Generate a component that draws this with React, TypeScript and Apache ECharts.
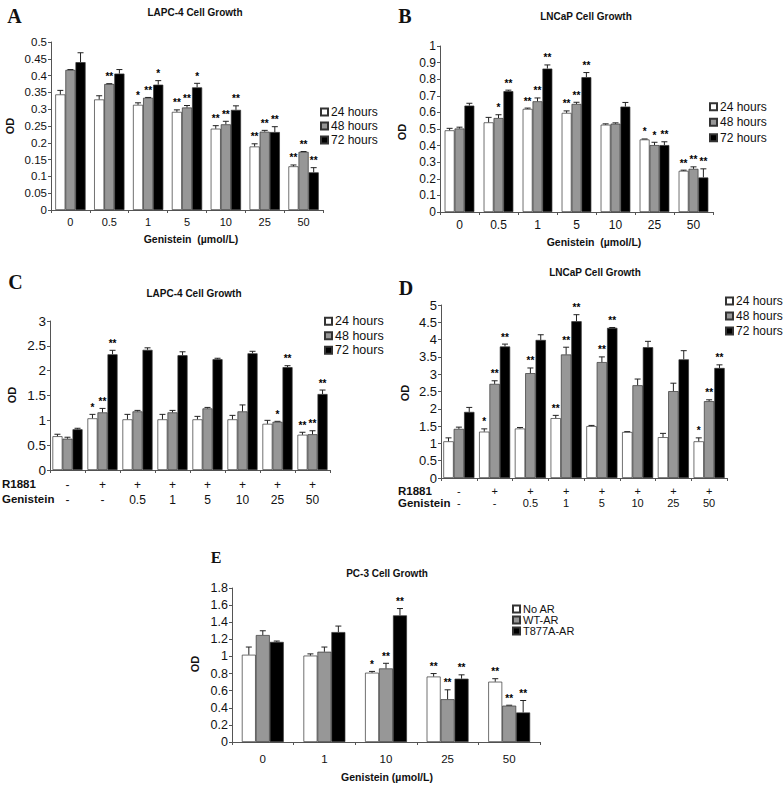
import React, { useEffect, useRef } from "react";
import * as echarts from "echarts";

// ---------- data ----------
const hourNames = ["24 hours", "48 hours", "72 hours"];
const arNames = ["No AR", "WT-AR", "T877A-AR"];

const catsAB = ["0", "0.5", "1", "5", "10", "25", "50"];

// Panel A: LAPC-4
const a24 = [0.344, 0.329, 0.313, 0.292, 0.242, 0.189, 0.13];
const a24e = [0.012, 0.011, 0.006, 0.006, 0.009, 0.008, 0.004];
const a24s = ["", "", "*", "**", "**", "**", "**"];
const a48 = [0.417, 0.375, 0.334, 0.305, 0.255, 0.233, 0.173];
const a48e = [0.001, 0.001, 0.001, 0.006, 0.009, 0.004, 0.001];
const a48s = ["", "**", "**", "**", "**", "**", "**"];
const a72 = [0.44, 0.406, 0.373, 0.365, 0.298, 0.232, 0.112];
const a72e = [0.028, 0.012, 0.012, 0.012, 0.012, 0.016, 0.014];
const a72s = ["", "", "*", "*", "**", "**", "**"];

// Panel B: LNCaP
const b24 = [0.492, 0.54, 0.621, 0.597, 0.526, 0.437, 0.248];
const b24e = [0.012, 0.03, 0.005, 0.012, 0.005, 0.003, 0.004];
const b24s = ["", "", "**", "**", "", "*", "**"];
const b48 = [0.503, 0.566, 0.667, 0.651, 0.532, 0.403, 0.26];
const b48e = [0.008, 0.02, 0.02, 0.01, 0.005, 0.017, 0.012];
const b48s = ["", "*", "**", "**", "", "*", "**"];
const b72 = [0.641, 0.728, 0.864, 0.812, 0.635, 0.403, 0.208];
const b72e = [0.014, 0.006, 0.022, 0.028, 0.025, 0.02, 0.052];
const b72s = ["", "**", "**", "**", "", "**", "**"];

// Panels C & D: R1881 + Genistein
const r1881Row = ["-", "+", "+", "+", "+", "+", "+", "+"];
const genRow = ["-", "-", "0.5", "1", "5", "10", "25", "50"];

const c24 = [0.68, 1.04, 1.02, 1.02, 1.02, 1.02, 0.93, 0.71];
const c24e = [0.04, 0.08, 0.1, 0.1, 0.06, 0.08, 0.07, 0.05];
const c24s = ["", "*", "", "", "", "", "", "**"];
const c48 = [0.63, 1.16, 1.18, 1.16, 1.24, 1.18, 0.97, 0.72];
const c48e = [0.03, 0.08, 0.02, 0.04, 0.02, 0.13, 0.01, 0.07];
const c48s = ["", "**", "", "", "", "", "*", "**"];
const c72 = [0.82, 2.33, 2.42, 2.31, 2.23, 2.35, 2.07, 1.53];
const c72e = [0.02, 0.08, 0.04, 0.07, 0.02, 0.04, 0.03, 0.08];
const c72s = ["", "**", "", "", "", "", "**", "**"];

const d24 = [1.06, 1.34, 1.43, 1.73, 1.5, 1.33, 1.18, 1.06];
const d24e = [0.1, 0.08, 0.03, 0.08, 0.02, 0.01, 0.11, 0.1];
const d24s = ["", "*", "", "**", "", "", "", "*"];
const d48 = [1.42, 2.72, 3.03, 3.57, 3.35, 2.68, 2.51, 2.22];
const d48e = [0.05, 0.09, 0.15, 0.21, 0.15, 0.18, 0.23, 0.04];
const d48s = ["", "**", "**", "**", "**", "", "", "**"];
const d72 = [1.91, 3.8, 3.99, 4.53, 4.34, 3.78, 3.43, 3.18];
const d72e = [0.13, 0.07, 0.15, 0.19, 0.01, 0.17, 0.25, 0.09];
const d72s = ["", "**", "", "**", "**", "", "", "**"];

// Panel E: PC-3
const catsE = ["0", "1", "10", "25", "50"];
const eNo = [1.02, 1.01, 0.81, 0.765, 0.705];
const eNoE = [0.09, 0.02, 0.015, 0.035, 0.035];
const eNoS = ["", "", "*", "**", "**"];
const eWt = [1.25, 1.055, 0.86, 0.5, 0.425];
const eWtE = [0.05, 0.055, 0.06, 0.11, 0.005];
const eWtS = ["", "", "**", "**", "**"];
const eT = [1.17, 1.285, 1.48, 0.74, 0.345];
const eTE = [0.01, 0.07, 0.08, 0.045, 0.14];
const eTS = ["", "", "**", "**", "**"];

// ---------- styling ----------
const FONT = "'Liberation Sans', Arial, sans-serif";
const SERIF = "'Liberation Serif', 'Times New Roman', serif";
const FILLS = ["#ffffff", "#979797", "#000000"];
const AXIS = "#555";
const TXT = "#111";

function panelSeries(
  p: number,
  names: string[],
  vals: number[][],
  errs: number[][],
  sigs: string[][],
  gap: number
) {
  const out: any[] = [];
  for (let i = 0; i < 3; i++) {
    out.push({
      type: "bar",
      name: names[i],
      xAxisIndex: p,
      yAxisIndex: p,
      data: vals[i],
      barGap: "0%",
      barCategoryGap: gap * 100 + "%",
      itemStyle: { color: FILLS[i], borderColor: "#333", borderWidth: 0.7 },
      z: 2,
    });
  }
  for (let i = 0; i < 3; i++) {
    out.push({
      type: "custom",
      name: "err-" + p + "-" + i,
      xAxisIndex: p,
      yAxisIndex: p,
      z: 5,
      silent: true,
      itemStyle: { color: "#111" },
      data: vals[i].map((v, k) => [k, v, errs[i][k]]),
      encode: { x: 0, y: 1 },
      renderItem: (params: any, api: any) => {
        const k = api.value(0);
        const v = api.value(1);
        const e = api.value(2);
        const band = api.size([1, 0])[0];
        const bw = (band * (1 - gap)) / 3;
        const base = api.coord([k, v]);
        const cx = base[0] + (i - 1) * bw;
        const yTop = base[1];
        const yErr = api.coord([k, v + e])[1];
        const s = sigs[i][params.dataIndex];
        const children: any[] = [];
        if (yTop - yErr > 0.6) {
          children.push({
            type: "line",
            shape: { x1: cx, y1: yTop, x2: cx, y2: yErr },
            style: { stroke: "#222", lineWidth: 1 },
          });
        }
        children.push({
          type: "line",
          shape: { x1: cx - 3, y1: yErr, x2: cx + 3, y2: yErr },
          style: { stroke: "#222", lineWidth: 1 },
        });
        if (s) {
          children.push({
            type: "text",
            x: cx,
            y: yErr - 2,
            style: {
              legacy: false,
              text: s,
              fontSize: 10,
              fontWeight: "bold",
              fontFamily: FONT,
              fill: "#000",
              align: "center",
              verticalAlign: "bottom",
            },
          });
        }
        return { type: "group", children };
      },
    });
  }
  return out;
}

function xAxisOf(p: number, data: string[], fontSize: number, margin: number, lineHeight?: number) {
  return {
    type: "category",
    gridIndex: p,
    data,
    axisLine: { lineStyle: { color: AXIS, width: 1 } },
    axisTick: { show: true, length: 3, lineStyle: { color: AXIS } },
    axisLabel: {
      interval: 0,
      fontSize,
      margin,
      color: TXT,
      fontFamily: FONT,
      lineHeight: lineHeight,
    },
    splitLine: { show: false },
  };
}

function yAxisOf(p: number, max: number, interval: number, fontSize: number) {
  return {
    type: "value",
    gridIndex: p,
    min: 0,
    max,
    interval,
    axisLine: { show: true, lineStyle: { color: AXIS, width: 1 } },
    axisTick: { show: true, length: 3, lineStyle: { color: AXIS } },
    axisLabel: { fontSize, margin: 4, color: TXT, fontFamily: FONT },
    splitLine: { show: false },
  };
}

function legendOf(data: string[], left: number, top: number, fontSize: number, lineHeight: number) {
  return {
    data,
    orient: "vertical",
    left,
    top,
    padding: 0,
    itemGap: 0,
    itemWidth: 7,
    itemHeight: 7,
    icon: "rect",
    selectedMode: false,
    textStyle: { fontSize, lineHeight, color: TXT, fontFamily: FONT, padding: [0, 0, 0, -2] },
  };
}

function txt(text: string, x: number, y: number, fontSize: number, opts: any = {}) {
  return {
    type: "text",
    x,
    y,
    rotation: opts.rotation || 0,
    silent: true,
    style: {
      text,
      fontSize,
      fontWeight: opts.weight || "bold",
      fontFamily: opts.family || FONT,
      fill: opts.fill || TXT,
      align: opts.align || "center",
      verticalAlign: "middle",
    },
  };
}

export default function App() {
  const ref = useRef<HTMLDivElement>(null);

  useEffect(() => {
    if (!ref.current) return;
    const chart = echarts.init(ref.current, undefined, { renderer: "svg" });
    const catsCD = r1881Row.map((r, i) => r + "\n" + genRow[i]);

    const option: any = {
      animation: false,
      backgroundColor: "#ffffff",
      grid: [
        { left: 51, top: 42, width: 272, height: 168, outerBoundsMode: "none", containLabel: false },
        { left: 440, top: 46, width: 273, height: 166, outerBoundsMode: "none", containLabel: false },
        { left: 50, top: 321, width: 280, height: 149, outerBoundsMode: "none", containLabel: false },
        { left: 441, top: 305, width: 286, height: 173, outerBoundsMode: "none", containLabel: false },
        { left: 232, top: 588, width: 308, height: 154, outerBoundsMode: "none", containLabel: false },
      ],
      xAxis: [
        xAxisOf(0, catsAB, 11, 6),
        xAxisOf(1, catsAB, 12, 7),
        xAxisOf(2, catsCD, 12, 7, 15),
        xAxisOf(3, catsCD, 11, 7, 12),
        xAxisOf(4, catsE, 11.5, 11),
      ],
      yAxis: [
        yAxisOf(0, 0.5, 0.05, 11.5),
        yAxisOf(1, 1, 0.1, 12),
        yAxisOf(2, 3, 0.5, 13.5),
        yAxisOf(3, 5, 0.5, 13),
        yAxisOf(4, 1.8, 0.2, 12.5),
      ],
      legend: [
        legendOf(hourNames, 320, 105, 12, 14),
        legendOf(hourNames, 709, 99, 12, 15.5),
        legendOf(hourNames, 324, 314, 12.5, 14.5),
        legendOf(hourNames, 725, 293.5, 12, 15),
        legendOf(arNames, 512, 603.5, 11, 11),
      ],
      graphic: [
        // panel letters
        txt("A", 14.5, 16, 20, { family: SERIF }),
        txt("B", 405, 16, 20, { family: SERIF }),
        txt("C", 15.5, 282, 20, { family: SERIF }),
        txt("D", 406, 287.5, 20, { family: SERIF }),
        txt("E", 216, 557, 16, { family: SERIF }),
        // titles
        txt("LAPC-4 Cell Growth", 195, 12, 10),
        txt("LNCaP Cell Growth", 586, 16, 10),
        txt("LAPC-4 Cell Growth", 194, 293, 10),
        txt("LNCaP Cell Growth", 595, 272, 10),
        txt("PC-3 Cell Growth", 387, 573, 10),
        // y axis names
        txt("OD", 10, 126, 11, { rotation: Math.PI / 2 }),
        txt("OD", 402, 132, 11, { rotation: Math.PI / 2 }),
        txt("OD", 11.5, 395, 11, { rotation: Math.PI / 2 }),
        txt("OD", 404.5, 393, 11, { rotation: Math.PI / 2 }),
        txt("OD", 195, 664, 11, { rotation: Math.PI / 2 }),
        // x axis names
        txt("Genistein  (µmol/L)", 191, 239, 10.5),
        txt("Genistein  (µmol/L)", 594, 242, 10.5),
        txt("Genistein (µmol/L)", 387, 777, 10.5),
        // row headers for C & D
        txt("R1881", 2, 484, 11.5, { align: "left" }),
        txt("Genistein", 2, 499, 11.5, { align: "left" }),
        txt("R1881", 398, 491, 11.5, { align: "left" }),
        txt("Genistein", 398, 503, 11.5, { align: "left" }),
      ],
      series: [
        ...panelSeries(0, hourNames, [a24, a48, a72], [a24e, a48e, a72e], [a24s, a48s, a72s], 0.22),
        ...panelSeries(1, hourNames, [b24, b48, b72], [b24e, b48e, b72e], [b24s, b48s, b72s], 0.24),
        ...panelSeries(2, hourNames, [c24, c48, c72], [c24e, c48e, c72e], [c24s, c48s, c72s], 0.14),
        ...panelSeries(3, hourNames, [d24, d48, d72], [d24e, d48e, d72e], [d24s, d48s, d72s], 0.13),
        ...panelSeries(4, arNames, [eNo, eWt, eT], [eNoE, eWtE, eTE], [eNoS, eWtS, eTS], 0.32),
      ],
    };

    chart.setOption(option);
    return () => chart.dispose();
  }, []);

  return (
    <div
      ref={ref}
      style={{ position: "fixed", left: 0, top: 0, width: 784, height: 790, background: "#fff" }}
    />
  );
}
